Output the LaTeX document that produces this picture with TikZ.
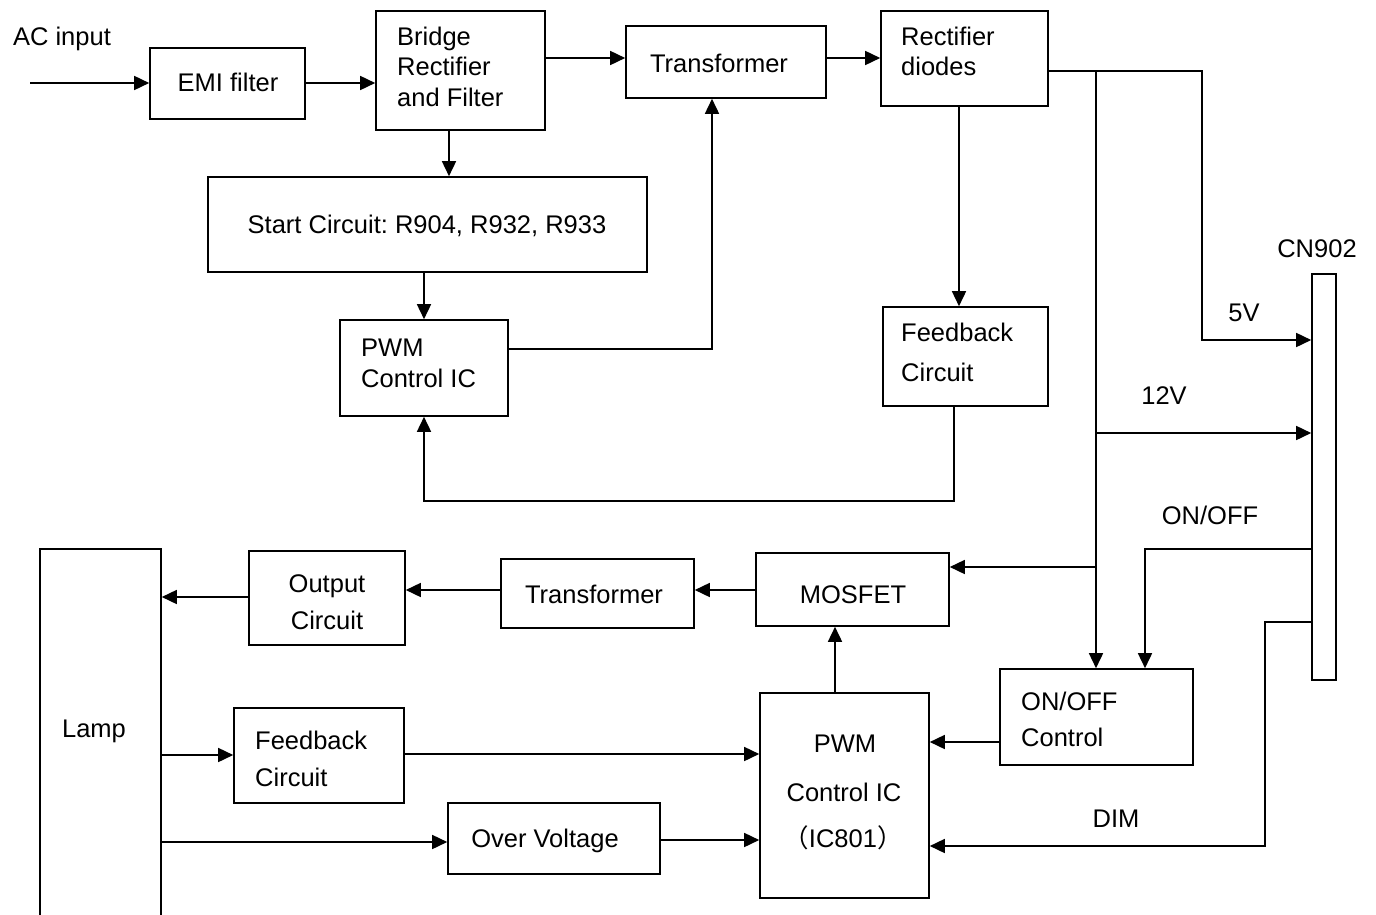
\documentclass[tikz,border=0pt]{standalone}
\usepackage{fontspec}
\setmainfont{Liberation Sans}
\newfontfamily\cjk{Noto Sans CJK SC}
\usetikzlibrary{arrows.meta}
\frenchspacing
\tikzset{
  box/.style={draw, line width=1.6pt, inner sep=0pt},
  wire/.style={line width=1.6pt},
  arr/.style={wire, -{Triangle[length=15pt,width=14pt]}},
  lbl/.style={inner sep=0pt, anchor=base, font=\fontsize{25.5}{30}\selectfont},
  lbw/.style={lbl, anchor=base west},
}
\begin{document}
\begin{tikzpicture}[x=1pt,y=-1pt]
\useasboundingbox (0,0) rectangle (1376,915);
% boxes
\node[box, minimum width=155, minimum height=71] (emi) at (227.5,83.5) {};
\node[box, minimum width=169, minimum height=119] (bridge) at (460.5,70.5) {};
\node[box, minimum width=200, minimum height=72] (trans) at (726,62) {};
\node[box, minimum width=167, minimum height=95] (rd) at (964.5,58.5) {};
\node[box, minimum width=439, minimum height=95] (start) at (427.5,224.5) {};
\node[box, minimum width=168, minimum height=96] (pwma) at (424,368) {};
\node[box, minimum width=165, minimum height=99] (fba) at (965.5,356.5) {};
\node[box, minimum width=24, minimum height=406] (cn) at (1324,477) {};
\node[box, minimum width=121, minimum height=380] (lamp) at (100.5,739) {};
\node[box, minimum width=156, minimum height=94] (out) at (327,598) {};
\node[box, minimum width=193, minimum height=69] (tb) at (597.5,593.5) {};
\node[box, minimum width=193, minimum height=73] (mos) at (852.5,589.5) {};
\node[box, minimum width=170, minimum height=95] (fbb) at (319,755.5) {};
\node[box, minimum width=212, minimum height=71] (ov) at (554,838.5) {};
\node[box, minimum width=169, minimum height=205] (pwmb) at (844.5,795.5) {};
\node[box, minimum width=193, minimum height=96] (onoff) at (1096.5,717) {};
% texts
\node[lbl] (tac) at (62,46) {AC input};
\node[lbl] (temi) at (228,92) {EMI filter};
\node[lbw] (tbr1) at (397,46) {Bridge};
\node[lbw] (tbr2) at (397,76) {Rectifier};
\node[lbw] (tbr3) at (397,107) {and Filter};
\node[lbl] (ttr) at (719,73) {Transformer};
\node[lbw] (trd1) at (901,46) {Rectifier};
\node[lbw] (trd2) at (901,76) {diodes};
\node[lbl] (tst) at (427,233) {Start Circuit: R904, R932, R933};
\node[lbw] (tpa1) at (361,356) {PWM};
\node[lbw] (tpa2) at (361,387) {Control IC};
\node[lbw] (tfa1) at (901,341) {Feedback};
\node[lbw] (tfa2) at (901,381) {Circuit};
\node[lbl] (tcn) at (1317,257) {CN902};
\node[lbl] (t5v) at (1244,321) {5V};
\node[lbl] (t12v) at (1164,404) {12V};
\node[lbl] (ton) at (1210,524) {ON/OFF};
\node[lbl] (tlamp) at (94,737) {Lamp};
\node[lbl] (tout1) at (327,592) {Output};
\node[lbl] (tout2) at (327,629) {Circuit};
\node[lbl] (ttb) at (594,603) {Transformer};
\node[lbl] (tmos) at (853,603) {MOSFET};
\node[lbw] (tfb1) at (255,749) {Feedback};
\node[lbw] (tfb2) at (255,786) {Circuit};
\node[lbl] (tov) at (545,847) {Over Voltage};
\node[lbl] (tpb1) at (845,752) {PWM};
\node[lbl] (tpb2) at (844,801) {Control IC};
\node[lbl] (tpb3) at (843,847) {{\cjk（}IC801{\cjk）}};
\node[lbw] (toc1) at (1021,710) {ON/OFF};
\node[lbw] (toc2) at (1021,746) {Control};
\node[lbl] (tdim) at (1116,827) {DIM};
% connectors
\coordinate (acin) at (30,83);
\draw[arr] (acin) -- (emi.west |- acin);
\draw[arr] (emi.east |- 0,83) -- (bridge.west |- 0,83);
\draw[arr] (bridge.east |- 0,58) -- (trans.west |- 0,58);
\draw[arr] (trans.east |- 0,58) -- (rd.west |- 0,58);
\draw[arr] (449,0 |- bridge.south) -- (449,0 |- start.north);
\draw[arr] (pwma.north |- start.south) -- (pwma.north);
\draw[arr] (pwma.east |- 0,349) -- (712,349) -- (712,0 |- trans.south);
\draw[arr] (959,0 |- rd.south) -- (959,0 |- fba.north);
\draw[arr] (954,0 |- fba.south) -- (954,501) -- (pwma.south |- 0,501) -- (pwma.south);
\draw[arr] (rd.east |- 0,71) -- (1202,71) -- (1202,340) -- (cn.west |- 0,340);
\draw[arr] (1096,71) -- (1096,0 |- onoff.north);
\draw[arr] (1096,433) -- (cn.west |- 0,433);
\draw[arr] (1096,567) -- (mos.east |- 0,567);
\draw[arr] (cn.west |- 0,549) -- (1145,549) -- (1145,0 |- onoff.north);
\draw[arr] (cn.west |- 0,622) -- (1265,622) -- (1265,846) -- (pwmb.east |- 0,846);
\draw[arr] (onoff.west |- 0,742) -- (pwmb.east |- 0,742);
\draw[arr] (835,0 |- pwmb.north) -- (835,0 |- mos.south);
\draw[arr] (mos.west |- 0,590) -- (tb.east |- 0,590);
\draw[arr] (tb.west |- 0,590) -- (out.east |- 0,590);
\draw[arr] (out.west |- 0,597) -- (lamp.east |- 0,597);
\draw[arr] (lamp.east |- 0,755) -- (fbb.west |- 0,755);
\draw[arr] (fbb.east |- 0,754) -- (pwmb.west |- 0,754);
\draw[arr] (lamp.east |- 0,842) -- (ov.west |- 0,842);
\draw[arr] (ov.east |- 0,840) -- (pwmb.west |- 0,840);
\end{tikzpicture}
\end{document}
